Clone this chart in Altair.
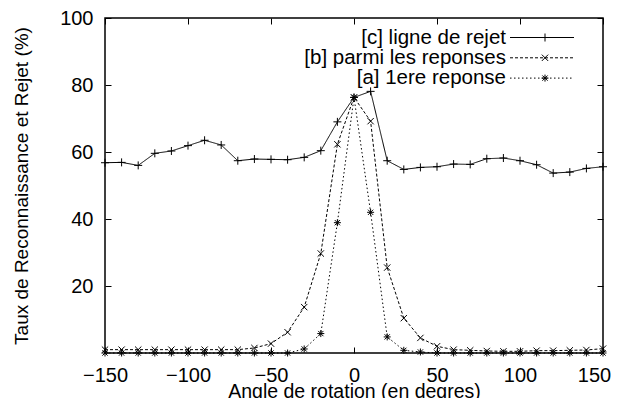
import altair as alt
import pandas as pd

angles = list(range(-150, 151, 10))

rejet = [56.8, 56.9, 56.0, 59.6, 60.3, 61.9, 63.5, 62.1, 57.4, 57.9, 57.8, 57.7, 58.4, 60.4, 69.0,
         76.3,
         78.1, 57.4, 54.8, 55.4, 55.6, 56.4, 56.3, 58.0, 58.2, 57.4, 56.2, 53.7, 54.0, 55.1, 55.6]
parmi = [1.0, 1.0, 1.0, 1.0, 1.0, 1.0, 1.0, 1.0, 1.0, 1.5, 2.8, 6.2, 13.7, 29.7, 62.3,
         76.3,
         69.2, 25.5, 10.4, 4.5, 2.0, 1.0, 0.8, 0.6, 0.5, 0.5, 0.7, 0.7, 0.8, 0.9, 1.3]
premiere = [0.0] * 12 + [1.2, 5.8, 38.9] + [76.3] + [42.0, 4.8, 0.8, 0.3] + [0.0] * 11

series_names = ["[c] ligne de rejet", "[b] parmi les reponses", "[a] 1ere reponse"]
series_values = [rejet, parmi, premiere]

x_ticks = [-150, -100, -50, 0, 50, 100, 150]
y_labels = [20, 40, 60, 80, 100]

FONT = "Liberation Sans"
W, H = 498, 335

rows = []
for name, vals in zip(series_names, series_values):
    for a, v in zip(angles, vals):
        rows.append({"angle": a, "value": v, "series": name})
df = pd.DataFrame(rows)

xscale = alt.Scale(domain=[-150, 150], nice=False, zero=False)
yscale = alt.Scale(domain=[0, 100], nice=False)

plus = "M-1,0L1,0M0,-1L0,1"
cross = "M-1,-1L1,1M-1,1L1,-1"
star = "M-1,0L1,0M0,-1L0,1M-0.75,-0.75L0.75,0.75M-0.75,0.75L0.75,-0.75"
styles = {
    series_names[0]: dict(dash=[1, 0], shape=plus, size=64),
    series_names[1]: dict(dash=[3, 2], shape=cross, size=40),
    series_names[2]: dict(dash=[1.5, 2.5], shape=star, size=49),
}

base = alt.Chart(df)

label_style = dict(tickSize=0, domain=False, grid=False, labelFlush=False, labelOverlap=False,
                   labelFont=FONT, labelColor="black")

# axis layers
label_axes = base.mark_point(opacity=0).encode(
    x=alt.X("angle:Q", scale=xscale, axis=alt.Axis(
        orient="bottom", values=x_ticks[:-1], labelPadding=12, labelFontSize=20,
        title="Angle de rotation (en degres)", titleFontSize=19.5, titleFont=FONT,
        titleFontWeight="normal", titleColor="black", titlePadding=-3, **label_style)),
    y=alt.Y("value:Q", scale=yscale, axis=alt.Axis(
        orient="left", values=y_labels, labelPadding=12, labelFontSize=20,
        title="Taux de Reconnaissance et Rejet (%)", titleFontSize=19, titleFont=FONT,
        titleFontWeight="normal", titleColor="black", titlePadding=28, **label_style)),
)

# last x label, nudged inward so it stays inside the page
last_label = base.mark_point(opacity=0).encode(
    x=alt.X("angle:Q", scale=xscale, axis=alt.Axis(
        orient="bottom", values=x_ticks[-1:], labelPadding=12, labelFontSize=20,
        labelOffset=-9, title=None, **label_style)),
    y=alt.Y("value:Q", scale=yscale, axis=None),
)

tick_axis = dict(tickSize=6, offset=-6, labels=False, domain=False, grid=False,
                 title=None, tickColor="black", tickWidth=1)
ticks_a = base.mark_point(opacity=0).encode(
    x=alt.X("angle:Q", scale=xscale, axis=alt.Axis(orient="bottom", values=x_ticks, **tick_axis)),
    y=alt.Y("value:Q", scale=yscale, axis=alt.Axis(orient="left", values=y_labels, **tick_axis)),
)
ticks_b = base.mark_point(opacity=0).encode(
    x=alt.X("angle:Q", scale=xscale, axis=alt.Axis(orient="top", values=x_ticks, **tick_axis)),
    y=alt.Y("value:Q", scale=yscale, axis=alt.Axis(orient="right", values=y_labels, **tick_axis)),
)

frame = alt.Chart(pd.DataFrame({"f": [0]})).mark_rect(
    filled=False, stroke="black", strokeWidth=1.5).encode(
    x=alt.value(0), x2=alt.value(W), y=alt.value(0), y2=alt.value(H))

layers = [label_axes, last_label, ticks_a, ticks_b, frame]

for name in series_names:
    st = styles[name]
    sub = base.transform_filter(alt.datum.series == name)
    line = sub.mark_line(color="black", strokeWidth=1, strokeDash=st["dash"]).encode(
        x=alt.X("angle:Q", scale=xscale, axis=None),
        y=alt.Y("value:Q", scale=yscale, axis=None),
    )
    pts = sub.mark_point(shape=st["shape"], size=st["size"], filled=False,
                         color="black", strokeWidth=1, opacity=1).encode(
        x=alt.X("angle:Q", scale=xscale, axis=None),
        y=alt.Y("value:Q", scale=yscale, axis=None),
    )
    layers += [line, pts]

# legend (top-right, inside plot, gnuplot style)
for i, name in enumerate(series_names):
    st = styles[name]
    ly = 19.5 + 20.3 * i
    ldf = pd.DataFrame({"label": [name]})
    lc = alt.Chart(ldf)
    txt = lc.mark_text(align="right", baseline="middle", fontSize=20.5, font=FONT,
                       color="black").encode(
        x=alt.value(401), y=alt.value(ly), text="label:N")
    rule = lc.mark_rule(color="black", strokeWidth=1, strokeDash=st["dash"]).encode(
        x=alt.value(405), x2=alt.value(469), y=alt.value(ly))
    mk = lc.mark_point(shape=st["shape"], size=st["size"], filled=False, color="black",
                       strokeWidth=1, opacity=1).encode(
        x=alt.value(440), y=alt.value(ly))
    layers += [txt, rule, mk]

chart = alt.layer(*layers).resolve_axis(x="independent", y="independent").properties(
    width=W, height=H,
    autosize=alt.AutoSizeParams(type="none"),
    padding={"left": 97, "top": 10, "right": 9, "bottom": 45},
    background="white",
).configure_view(stroke=None)

chart.save("out.html", embed_options={"renderer": "svg", "actions": False})
